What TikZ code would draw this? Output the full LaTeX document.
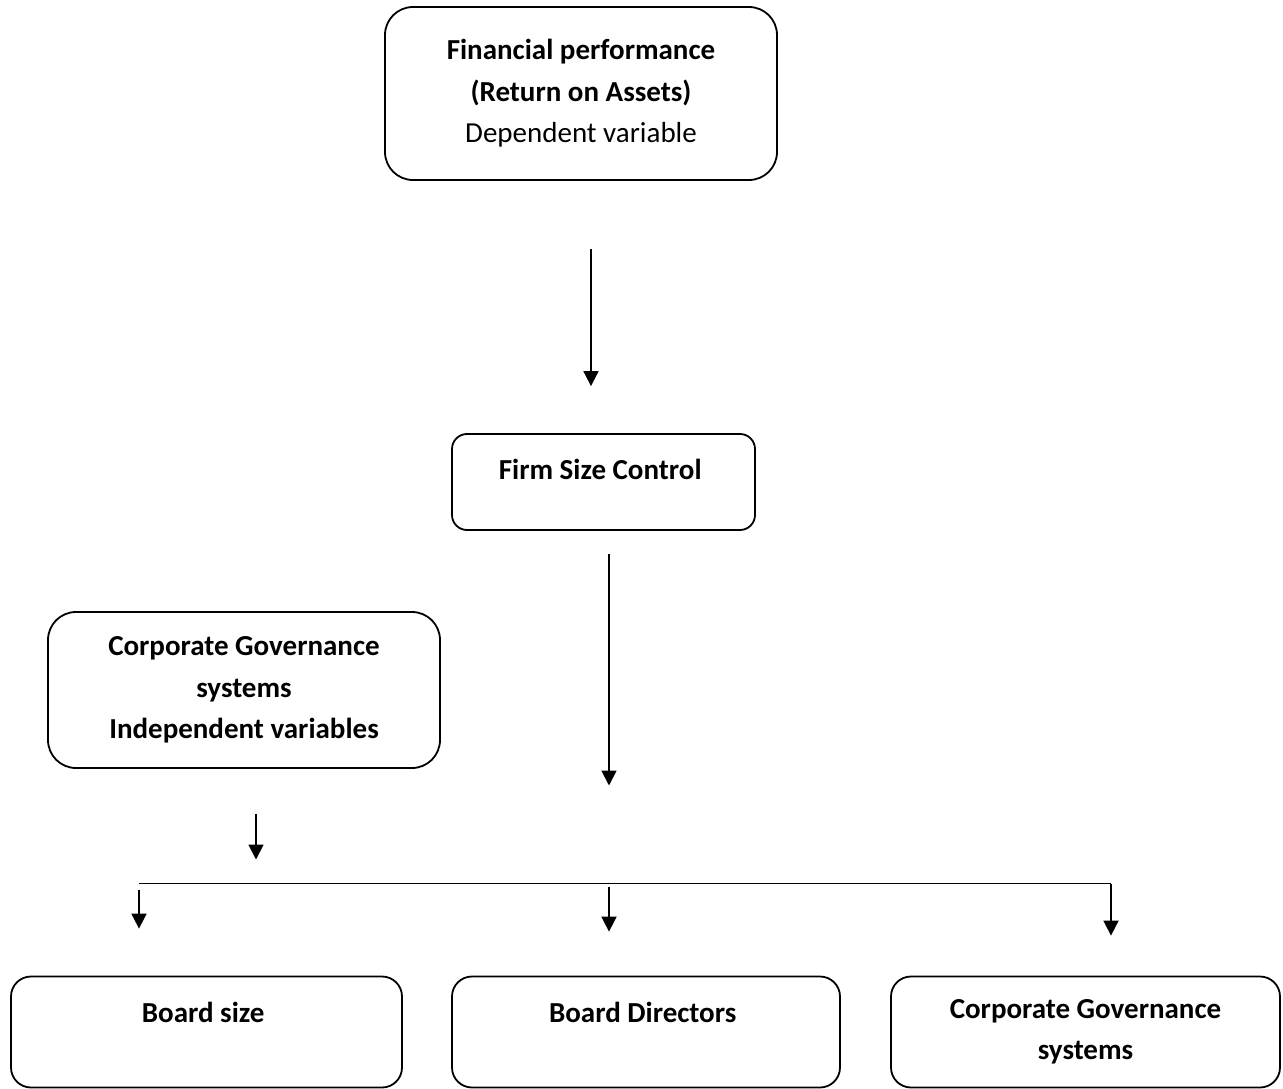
\documentclass[tikz,border=0pt]{standalone}
\usepackage{fontspec}
\setmainfont{Carlito}
\usetikzlibrary{arrows.meta}

\begin{document}
\begin{tikzpicture}[
    x=1pt, y=-1pt,
    box/.style={rectangle, draw, line width=1.8pt, rounded corners=20pt, align=center, inner sep=0pt, font=\fontsize{29}{41.5}\selectfont},
    arrow/.style={-{Triangle[length=15pt, width=15pt]}, line width=1.8pt},
    line/.style={line width=1.8pt},
]
\useasboundingbox (0,0) rectangle (1283,1089);

% Dependent variable
\node[box, rounded corners=28pt, minimum width=392pt, minimum height=173pt] (fin) at (581,93.5) {
    \textbf{Financial performance}\\
    \textbf{(Return on Assets)}\\
    Dependent variable
};

% Control variable
\node[box, rounded corners=15pt, minimum width=303pt, minimum height=96pt, text height=20pt, text depth=25pt] (firm) at (603.5,482) {
    \textbf{Firm Size Control}
};

% Independent variables
\node[box, rounded corners=28pt, minimum width=392pt, minimum height=156pt] (cgov) at (244,690) {
    \textbf{Corporate Governance}\\
    \textbf{systems}\\
    \textbf{Independent variables}
};

% Bottom row
\node[box, minimum width=391pt, minimum height=111pt, text height=20pt, text depth=40pt] (bsize) at (206.5,1032) {
    \textbf{Board size}
};
\node[box, minimum width=388pt, minimum height=111pt, text height=20pt, text depth=40pt] (bdir) at (646,1032) {
    \textbf{Board Directors}
};
\node[box, minimum width=389pt, minimum height=111pt] (cgsys) at (1085.5,1032) {
    \textbf{Corporate Governance}\\
    \textbf{systems}
};

% Bus line
\coordinate (busL) at (139,883.5);
\coordinate (cgin) at (256,883.5);
\coordinate (busM) at (609,883.5);
\coordinate (busR) at (1111,883.5);
\draw[line] (busL) -- (busR);

% Arrows
\draw[arrow, shorten <=68pt, shorten >=47pt] ([xshift=10pt]fin.south) -- ([xshift=-12.5pt]firm.north);
\draw[arrow, shorten <=23pt, shorten >=98pt] ([xshift=5.5pt]firm.south) -- (busM);
\draw[arrow, shorten <=45pt, shorten >=24pt] ([xshift=12pt]cgov.south) -- (cgin);
\draw[arrow, shorten >=47pt] ([yshift=-6pt]busL) -- (bsize.north -| busL);
\draw[arrow, shorten >=44pt] ([yshift=-3pt]busM) -- (bdir.north -| busM);
\draw[arrow, shorten >=40pt] (busR) -- (cgsys.north -| busR);

\end{tikzpicture}
\end{document}
